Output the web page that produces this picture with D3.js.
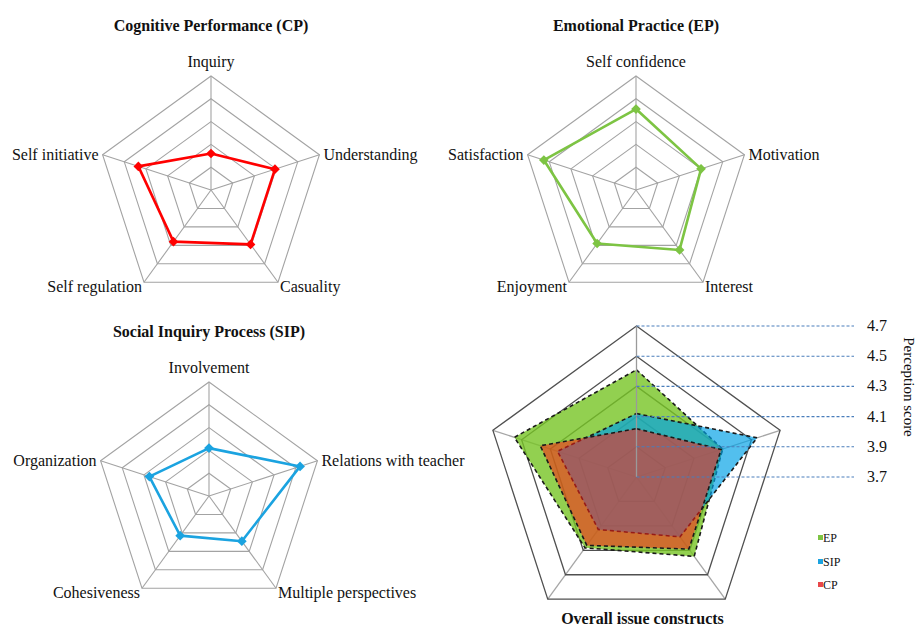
<!DOCTYPE html>
<html>
<head>
<meta charset="utf-8">
<script src="https://cdn.jsdelivr.net/npm/d3@7"></script>
<style>
  html, body { margin: 0; padding: 0; background: #ffffff; }
  svg { display: block; }
  text { font-family: "Liberation Serif", "Times New Roman", serif; fill: #111; }
</style>
</head>
<body>
<svg id="chart" width="917" height="627"></svg>
<script>
// ---------------- data ----------------
const cpAxes = ["Inquiry", "Understanding", "Casuality", "Self regulation", "Self initiative"];
const cpValues = [4.02, 4.29, 4.29, 4.26, 4.37];

const epAxes = ["Self confidence", "Motivation", "Interest", "Enjoyment", "Satisfaction"];
const epValues = [4.41, 4.30, 4.35, 4.28, 4.55];

const sipAxes = ["Involvement", "Relations with teacher", "Multiple perspectives", "Cohesiveness", "Organization"];
const sipValues = [4.12, 4.54, 4.19, 4.13, 4.25];

const scaleTicks = [3.7, 3.9, 4.1, 4.3, 4.5, 4.7];
const tickLabels = ["3.7", "3.9", "4.1", "4.3", "4.5", "4.7"];
const legendLabels = ["EP", "SIP", "CP"];
const chartTitles = ["Cognitive Performance (CP)", "Emotional Practice (EP)", "Social Inquiry Process (SIP)", "Overall issue constructs"];
const valueAxisTitle = "Perception score";

// ---------------- drawing ----------------
const svg = d3.select("#chart");
const N = 5;
const angle = i => i * 2 * Math.PI / N;
const pt = (cx, cy, r, i) => [cx + r * Math.sin(angle(i)), cy - r * Math.cos(angle(i))];

function smallRadar(cx, cy, R, axes, values, color, title, titleY) {
  const g = svg.append("g");
  const r = d3.scaleLinear().domain([3.7, 4.7]).range([0, R]);
  const rings = scaleTicks.slice(1);
  // rings
  g.selectAll("path.ring").data(rings).join("path")
    .attr("d", v => d3.line()(d3.range(N).map(i => pt(cx, cy, r(v), i))) + "Z")
    .attr("fill", "none").attr("stroke", "#a3a3a3").attr("stroke-width", 1.1);
  // spokes
  g.selectAll("line.spoke").data(d3.range(N)).join("line")
    .attr("x1", cx).attr("y1", cy)
    .attr("x2", i => pt(cx, cy, R, i)[0]).attr("y2", i => pt(cx, cy, R, i)[1])
    .attr("stroke", "#a3a3a3").attr("stroke-width", 1.1);
  // series
  const pts = values.map((v, i) => pt(cx, cy, r(v), i));
  g.append("path").attr("d", d3.line()(pts) + "Z")
    .attr("fill", "none").attr("stroke", color).attr("stroke-width", 2.6)
    .attr("stroke-linejoin", "round");
  g.selectAll("path.mk").data(pts).join("path")
    .attr("d", d3.symbol(d3.symbolDiamond2, 60)())
    .attr("transform", d => `translate(${d[0]},${d[1]})`)
    .attr("fill", color);
  // labels
  axes.forEach((lab, i) => {
    const [vx, vy] = pt(cx, cy, R, i);
    let x = vx, y = vy, anchor = "middle";
    if (i === 0) { y = vy - 9; }
    else if (i === 1) { x = vx + 4; y = vy + 5; anchor = "start"; }
    else if (i === 2) { x = vx + 2; y = vy + 10; anchor = "start"; }
    else if (i === 3) { x = vx - 2; y = vy + 10; anchor = "end"; }
    else { x = vx - 4; y = vy + 5; anchor = "end"; }
    g.append("text").attr("x", x).attr("y", y).attr("text-anchor", anchor)
      .attr("font-size", 16).text(lab);
  });
  g.append("text").attr("x", cx).attr("y", titleY).attr("text-anchor", "middle")
    .attr("font-size", 16).attr("font-weight", "bold").text(title);
}

smallRadar(211, 190, 114, cpAxes, cpValues, "#ff0000", chartTitles[0], 31);
smallRadar(636, 190, 114, epAxes, epValues, "#7dc443", chartTitles[1], 31);
smallRadar(209, 496, 114, sipAxes, sipValues, "#1ba3e0", chartTitles[2], 337);

// ---------------- overall chart ----------------
(function () {
  const cx = 636.5, cy = 477, R = 151;
  const g = svg.append("g");
  const r = d3.scaleLinear().domain([3.7, 4.7]).range([0, R]);
  const rings = scaleTicks.slice(1);
  // spokes (under fills)
  g.selectAll("line.spoke").data(d3.range(1, N)).join("line")
    .attr("x1", cx).attr("y1", cy)
    .attr("x2", i => pt(cx, cy, R, i)[0]).attr("y2", i => pt(cx, cy, R, i)[1])
    .attr("stroke", "#a6a6a6").attr("stroke-width", 1.3);
  // rings
  g.selectAll("path.ring").data(rings).join("path")
    .attr("d", v => d3.line()(d3.range(N).map(i => pt(cx, cy, r(v), i))) + "Z")
    .attr("fill", "none").attr("stroke", "#505050").attr("stroke-width", 1.3);

  const series = [
    { vals: epValues, fill: "rgb(119,196,36)", op: 0.8 },
    { vals: sipValues, fill: "rgb(0,160,230)", op: 0.68 },
    { vals: cpValues, fill: "rgb(255,30,20)", op: 0.55 }
  ];
  series.forEach(s => {
    const pts = s.vals.map((v, i) => pt(cx, cy, r(v), i));
    g.append("path").attr("d", d3.line()(pts) + "Z")
      .attr("fill", s.fill).attr("fill-opacity", s.op)
      .attr("stroke", "#1a1a1a").attr("stroke-width", 1.6)
      .attr("stroke-dasharray", "4,3").attr("stroke-linejoin", "round");
  });
  // value axis spoke on top
  g.append("line").attr("x1", cx).attr("y1", cy).attr("x2", cx).attr("y2", cy - R)
    .attr("stroke", "#9a9a9a").attr("stroke-width", 1.3);

  // perception score guide lines
  const xEnd = 854;
  g.selectAll("line.guide").data(scaleTicks).join("line")
    .attr("x1", cx).attr("x2", xEnd)
    .attr("y1", v => cy - r(v)).attr("y2", v => cy - r(v))
    .attr("stroke", "#4a7ebb").attr("stroke-width", 1.1).attr("stroke-dasharray", "3,2");
  g.selectAll("text.tick").data(scaleTicks).join("text")
    .attr("x", 867).attr("y", v => cy - r(v) + 5)
    .attr("font-size", 16).text((v, i) => tickLabels[i]);
  g.append("text").attr("transform", "translate(904,387) rotate(90)")
    .attr("text-anchor", "middle").attr("font-size", 15).text(valueAxisTitle);

  // legend
  const legColors = ["#7dc443", "#1ba3e0", "#e8474a"];
  const legY = [538, 562, 585];
  legendLabels.forEach((lab, i) => {
    g.append("rect").attr("x", 818).attr("y", legY[i] - 3).attr("width", 5).attr("height", 5)
      .attr("fill", legColors[i]);
    g.append("text").attr("x", 823).attr("y", legY[i] + 4).attr("font-size", 12).text(lab);
  });

  g.append("text").attr("x", 642.5).attr("y", 624).attr("text-anchor", "middle")
    .attr("font-size", 16).attr("font-weight", "bold").text(chartTitles[3]);
})();
</script>
</body>
</html>
